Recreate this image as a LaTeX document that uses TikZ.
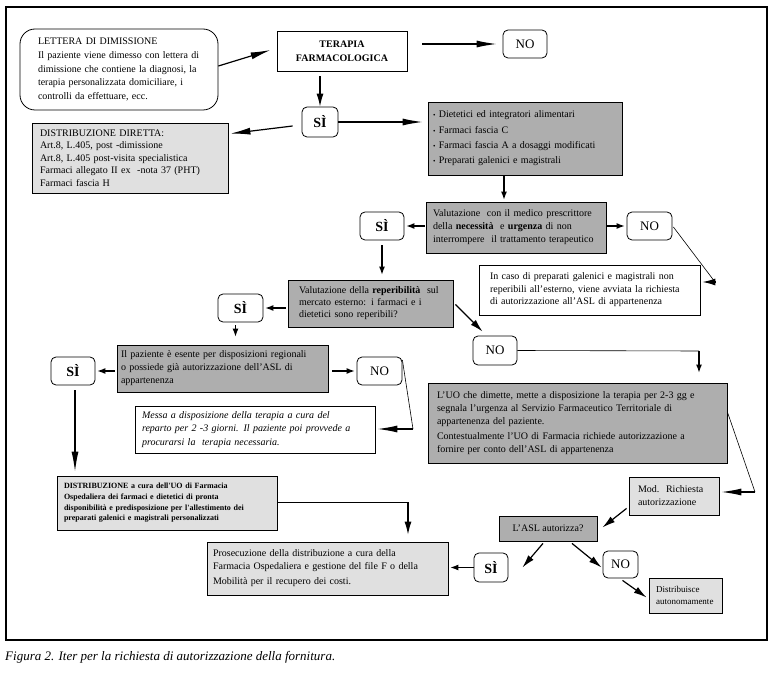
\documentclass[tikz,border=0pt]{standalone}
\usepackage{fontspec}
\setmainfont{Liberation Serif}
\usetikzlibrary{
	positioning,
	arrows.meta,
	calc
}
\definecolor{darkfill}{RGB}{174,174,174}
\definecolor{lightfill}{RGB}{224,224,224}

\begin{document}
\begin{tikzpicture}[x=1pt,y=-1pt,
	box/.style={draw, line width=0.8pt, align=left, inner ysep=2pt, font=\fontsize{10}{13}\selectfont},
	darkbox/.style={box, fill=darkfill},
	lightbox/.style={box, fill=lightfill},
	plainbox/.style={box, fill=white},
	answer/.style={draw, line width=0.8pt, rounded corners=5pt, inner sep=0pt, fill=white},
	yes/.style={answer, font=\fontsize{14}{14}\selectfont\bfseries},
	no/.style={answer, font=\fontsize{13}{13}\selectfont},
	longtip/.style={-{Latex[length=20pt,width=7pt]}, line width=1.2pt},
	midtip/.style={-{Latex[length=13pt,width=7pt]}, line width=1.2pt},
	shorttip/.style={-{Latex[length=8pt,width=6pt]}, line width=1.2pt},
	thinline/.style={line width=0.6pt}
	]
	\useasboundingbox (0,0) rectangle (772,674);
	\draw[line width=1.2pt] (6,7) rectangle (767,640);

	\node[plainbox, rounded corners=15pt, inner xsep=18pt, text width=162pt, minimum height=81pt, font=\fontsize{10}{13.7}\selectfont] (lettera) at (119,69.5) {LETTERA DI DIMISSIONE\\Il paziente viene dimesso con lettera di\\dimissione che contiene la diagnosi, la\\terapia personalizzata domiciliare, i\\controlli da effettuare, ecc.};
	\node[plainbox, align=center, minimum width=130pt, minimum height=40pt, font=\fontsize{10}{14}\selectfont\bfseries] (terapia) at (342,51) {TERAPIA\\FARMACOLOGICA};
	\node[no, minimum width=44pt, minimum height=28pt] (noA) at (525,44) {NO};
	\node[yes, minimum width=36pt, minimum height=30pt] (siA) at (320,122) {SÌ};
	\node[lightbox, inner xsep=8pt, text width=180pt, minimum height=70pt, font=\fontsize{10}{12.5}\selectfont] (distDiretta) at (130,158) {DISTRIBUZIONE DIRETTA:\\Art.8, L.405, post -dimissione\\Art.8, L.405 post-visita specialistica\\Farmaci allegato II ex\ \ -nota 37 (PHT)\\Farmaci fascia H};
	\node[darkbox, inner xsep=5pt, text width=184pt, minimum height=73pt, font=\fontsize{10}{15.3}\selectfont] (dietetici) at (525,138.5) {{\scriptsize\textbullet} Dietetici ed integratori alimentari\\{\scriptsize\textbullet} Farmaci fascia C\\{\scriptsize\textbullet} Farmaci fascia A a dosaggi modificati\\{\scriptsize\textbullet} Preparati galenici e magistrali};

	\node[darkbox, inner xsep=7pt, text width=166pt, minimum height=51pt] (valMedico) at (516,227.5) {Valutazione\ \ con il medico prescrittore\\della \textbf{necessità}\ \ e \textbf{urgenza} di non\\interrompere\ \ il trattamento terapeutico};
	\node[yes, minimum width=44pt, minimum height=28pt] (siB) at (382,226) {SÌ};
	\node[no, minimum width=45pt, minimum height=28pt] (noB) at (649.5,226) {NO};
	\node[plainbox, inner xsep=11pt, text width=199pt, minimum height=50pt, font=\fontsize{10}{12.5}\selectfont] (inCaso) at (589.5,290) {In caso di preparati galenici e magistrali non\\reperibili all’esterno, viene avviata la richiesta\\di autorizzazione all’ASL di appartenenza};
	\node[darkbox, inner xsep=11pt, text width=143pt, minimum height=47pt, font=\fontsize{10}{12}\selectfont] (valRep) at (370.5,303.5) {Valutazione della \textbf{reperibilità}\ \ sul\\mercato esterno: i farmaci e i\\dietetici sono reperibili?};
	\node[yes, minimum width=45pt, minimum height=28pt] (siC) at (240.5,308) {SÌ};
	\node[no, minimum width=44pt, minimum height=29pt] (noC) at (495,350.5) {NO};

	\node[darkbox, inner xsep=4pt, text width=203pt, minimum height=47pt] (esente) at (222.5,368.5) {Il paziente è esente per disposizioni regionali\\o possiede già autorizzazione dell’ASL di\\appartenenza};
	\node[yes, minimum width=44pt, minimum height=28pt] (siD) at (73,371) {SÌ};
	\node[no, minimum width=45pt, minimum height=28pt] (noD) at (379.5,371) {NO};
	\node[plainbox, inner xsep=7pt, text width=226pt, minimum height=47pt, font=\fontsize{10}{13.5}\selectfont\itshape] (messa) at (255,429.5) {Messa a disposizione della terapia a cura del\\reparto per 2 -3 giorni. Il paziente poi provvede a\\procurarsi la\ \ terapia necessaria.};
	\node[lightbox, inner xsep=7pt, text width=206pt, minimum height=54pt, font=\fontsize{8}{10.7}\selectfont\bfseries] (distCura) at (167,503) {DISTRIBUZIONE a cura dell\textquotesingle UO di Farmacia\\Ospedaliera dei farmaci e dietetici di pronta\\disponibilità e predisposizione per l\textquotesingle allestimento dei\\preparati galenici e magistrali personalizzati};
	\node[lightbox, inner xsep=6pt, text width=229pt, minimum height=53pt, font=\fontsize{10}{12.5}\selectfont] (prosec) at (327.5,568.5) {Prosecuzione della distribuzione a cura della\\Farmacia Ospedaliera e gestione del file F o della\\[3pt]Mobilità per il recupero dei costi.};

	\node[darkbox, inner xsep=9pt, text width=281pt, minimum height=80pt, font=\fontsize{10}{12.8}\selectfont] (lUO) at (577.5,423) {L’UO che dimette, mette a disposizione la terapia per 2-3 gg e\\segnala l’urgenza al Servizio Farmaceutico Territoriale di\\appartenenza del paziente.\\[2pt]Contestualmente l’UO di Farmacia richiede autorizzazione a\\fornire per conto dell’ASL di appartenenza};
	\node[lightbox, inner xsep=9pt, text width=72pt, minimum height=38pt] (mod) at (674,496) {Mod.~~Richiesta\\autorizzazione};
	\node[darkbox, align=center, minimum width=98pt, minimum height=25pt] (asl) at (548,528.5) {L’ASL autorizza?};
	\node[yes, minimum width=34pt, minimum height=29pt] (siE) at (491,567.5) {SÌ};
	\node[no, minimum width=35pt, minimum height=27pt] (noE) at (620.5,564.5) {NO};
	\node[lightbox, inner xsep=7pt, text width=59pt, minimum height=35pt, font=\fontsize{9}{12}\selectfont] (distrib) at (685.5,595.5) {Distribuisce\\autonomamente};

	\node[anchor=west, inner sep=0pt, font=\fontsize{13}{15}\selectfont\itshape] (caption) at (5,657) {Figura 2. Iter per la richiesta di autorizzazione della fornitura.};

	\coordinate (kneeB) at (715,282);
	\coordinate (kneeC) at (699,351);
	\coordinate (kneeD) at (413,429);
	\coordinate (kneeE) at (408,502);
	\coordinate (kneeF) at (755,492);

	\draw[longtip] ($(lettera.east)+(0,-3.5)$) -- ($(terapia.west)+(-6,-1)$);
	\draw[longtip] ($(terapia.east |- noA.west)+(15,0)$) -- ($(noA.west)+(-6,0)$);
	\draw[midtip] ($(terapia.south -| siA.north)+(0,5)$) -- (siA.north);
	\draw[longtip] ($(siA.west)+(-9,4)$) -- ($(distDiretta.north east)+(2,11)$);
	\draw[longtip] (siA.east) -- ($(siA.east -| dietetici.west)+(-5,0)$);
	\draw[shorttip] ($(dietetici.south)+(-21,0)$) -- ($(valMedico.north)+(-12,-2)$);

	\draw[shorttip] ($(valMedico.west |- siB.east)+(-1,0)$) -- ($(siB.east)+(2,0)$);
	\draw[shorttip] (valMedico.east |- noB.west) -- ($(noB.west)+(-2,0)$);
	\draw[thinline] ($(noB.east)+(1,1)$) -- (kneeB);
	\draw[midtip] (kneeB) -- ($(kneeB -| inCaso.east)+(2,0)$);
	\draw[shorttip] ($(siB.south)+(0,5)$) -- ($(siB.south |- valRep.north)+(0,-5)$);
	\draw[shorttip] ($(valRep.west |- siC.east)+(-2,0)$) -- ($(siC.east)+(2,0)$);
	\draw[midtip] ($(valRep.east)+(2,1)$) -- ($(noC.north west)+(10,-4)$);
	\draw[thinline] (noC.east) -- (kneeC);
	\draw[shorttip] (kneeC) -- ($(kneeC |- lUO.north)+(0,-10)$);

	\draw[shorttip] ($(siC.south)+(-5,3)$) -- ($(siC.south |- esente.north)+(-5,-8)$);
	\draw[shorttip] ($(esente.west |- siD.east)+(-2,0)$) -- ($(siD.east)+(2,0)$);
	\draw[shorttip] ($(esente.east |- noD.west)+(4,0)$) -- ($(noD.west)+(-2,0)$);
	\draw[thinline] ($(noD.east)+(0,-11)$) -- (kneeD);
	\draw[longtip] (kneeD) -- ($(kneeD -| messa.east)+(2,0)$);
	\draw[longtip] ($(siD.south)+(2,5)$) -- ($(siD.south |- distCura.north)+(2,-4)$);
	\draw[thinline] (distCura.east |- kneeE) -- (kneeE);
	\draw[midtip] (kneeE) -- ($(kneeE |- prosec.north)+(0,-7)$);

	\draw[thinline] ($(lUO.east)+(0,-11)$) -- (kneeF);
	\draw[longtip] (kneeF) -- ($(kneeF -| mod.east)+(2,0)$);
	\draw[midtip] ($(mod.south west)+(-2,-7)$) -- ($(asl.east)+(5,-1)$);
	\draw[midtip] ($(asl.south)+(-5,2)$) -- ($(siE.east)+(14,0)$);
	\draw[midtip] ($(asl.south)+(24,2)$) -- ($(noE.west)+(-1,3)$);
	\draw[shorttip] (siE.west) -- ($(siE.west -| prosec.east)+(2,0)$);
	\draw[midtip] ($(noE.south)+(2,2)$) -- ($(distrib.west)+(-2,2)$);
\end{tikzpicture}
\end{document}
